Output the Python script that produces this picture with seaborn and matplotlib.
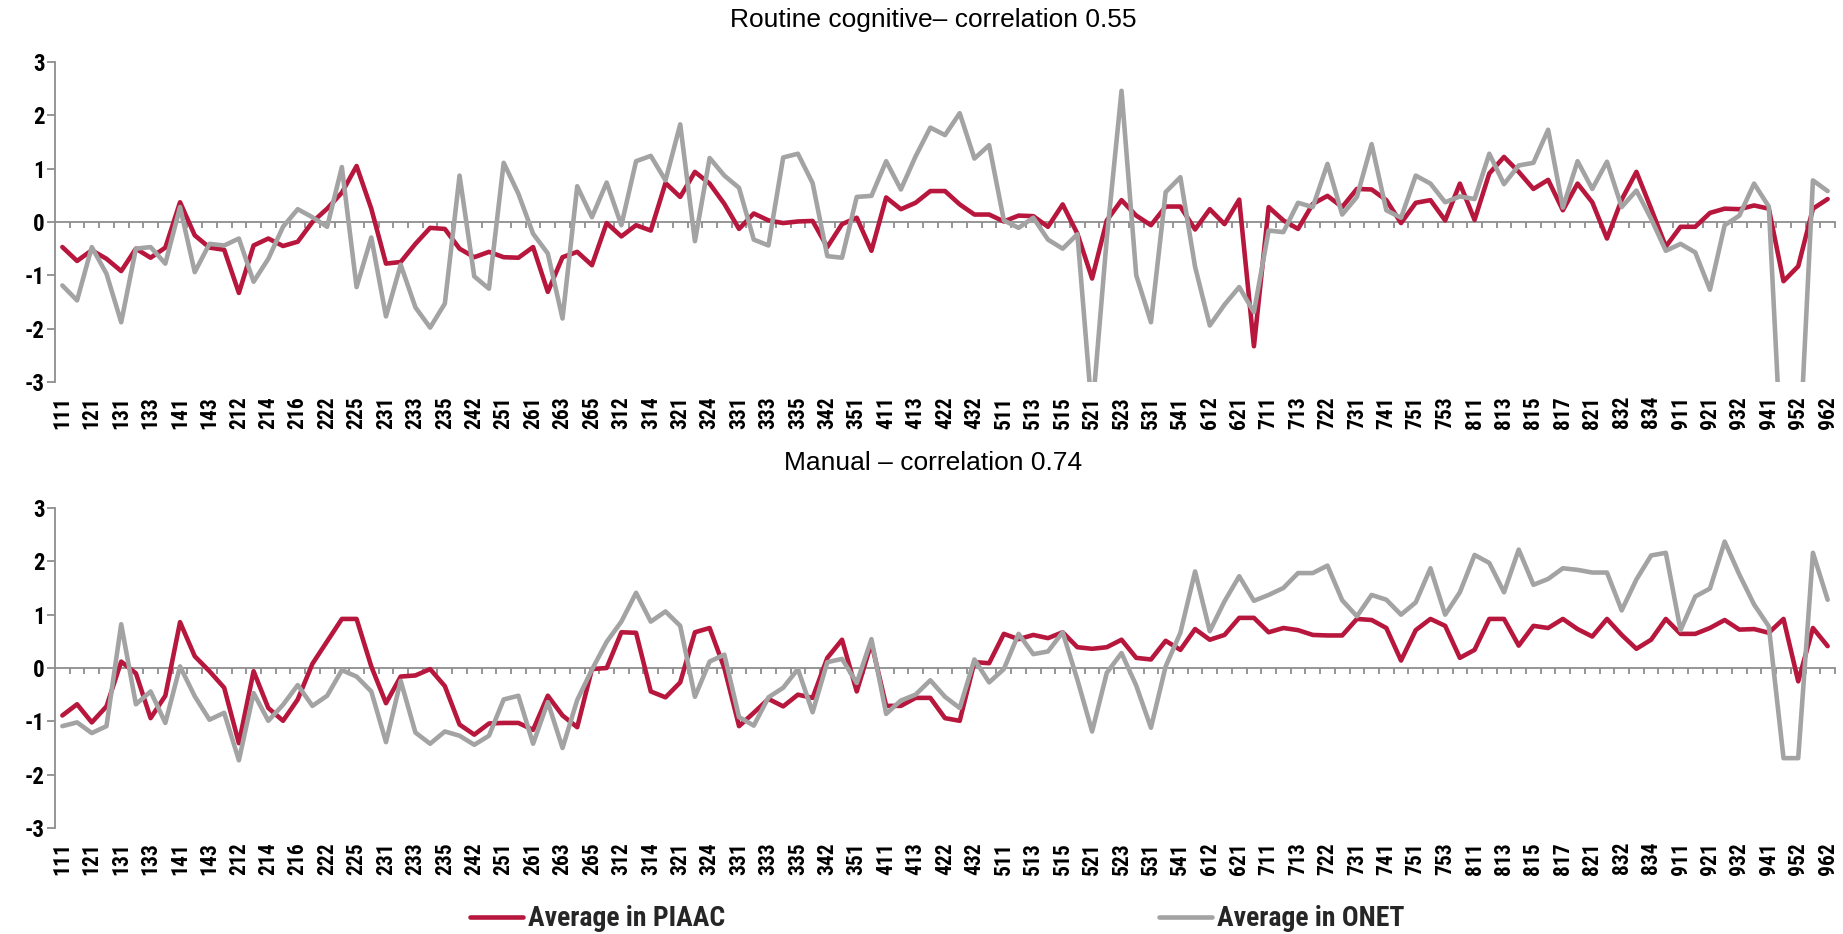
import numpy as np
import pandas as pd
import matplotlib
matplotlib.use("Agg")
import matplotlib.pyplot as plt
from matplotlib import font_manager as fm
import seaborn as sns

# ---------------- data ----------------
codes = ['111','112','121','122','131','132','133','134','141','142','143','211','212','213','214','215','216',
         '221','222','223','225','226','231','232','233','234','235','241','242','243','251','252','261','262',
         '263','264','265','311','312','313','314','315','321','322','324','325','331','332','333','334','335',
         '341','342','343','351','352','411','412','413','421','422','431','432','441','511','512','513','514',
         '515','516','521','522','523','524','531','532','541','611','612','613','621','622','711','712','713',
         '721','722','723','731','732','741','742','751','752','753','754','811','812','813','814','815','816',
         '817','818','821','831','832','833','834','835','911','912','921','931','932','933','941','951','952',
         '961','962']

routine_piaac = [-0.47, -0.73, -0.53, -0.69, -0.92, -0.50, -0.67, -0.48, 0.37, -0.25,
                 -0.48, -0.52, -1.33, -0.44, -0.31, -0.45, -0.37, 0.00, 0.25, 0.55,
                 1.05, 0.25, -0.78, -0.75, -0.41, -0.11, -0.13, -0.50, -0.66, -0.56,
                 -0.66, -0.67, -0.47, -1.31, -0.66, -0.56, -0.81, -0.02, -0.27, -0.06,
                 -0.16, 0.73, 0.47, 0.94, 0.72, 0.34, -0.13, 0.16, 0.03, -0.02,
                 0.01, 0.02, -0.47, -0.04, 0.08, -0.54, 0.46, 0.24, 0.36, 0.58,
                 0.58, 0.33, 0.14, 0.14, 0.01, 0.12, 0.11, -0.09, 0.33, -0.22,
                 -1.06, 0.03, 0.41, 0.12, -0.06, 0.29, 0.29, -0.14, 0.24, -0.04,
                 0.42, -2.33, 0.28, 0.03, -0.13, 0.34, 0.49, 0.28, 0.62, 0.61,
                 0.41, -0.02, 0.36, 0.41, 0.03, 0.72, 0.04, 0.91, 1.22, 0.94,
                 0.62, 0.79, 0.22, 0.72, 0.37, -0.31, 0.42, 0.94, 0.25, -0.46,
                 -0.09, -0.09, 0.17, 0.25, 0.24, 0.31, 0.25, -1.11, -0.83, 0.25, 0.43]

routine_onet = [-1.19, -1.47, -0.47, -0.97, -1.88, -0.50, -0.47, -0.78, 0.28, -0.94,
                -0.41, -0.44, -0.31, -1.12, -0.69, -0.09, 0.24, 0.09, -0.09, 1.03,
                -1.22, -0.29, -1.77, -0.80, -1.60, -1.98, -1.53, 0.87, -1.02, -1.25,
                1.11, 0.53, -0.22, -0.59, -1.81, 0.67, 0.09, 0.74, -0.06, 1.14,
                1.24, 0.78, 1.83, -0.36, 1.20, 0.87, 0.64, -0.33, -0.44, 1.21,
                1.28, 0.73, -0.64, -0.67, 0.47, 0.49, 1.14, 0.61, 1.23, 1.77,
                1.63, 2.04, 1.19, 1.44, 0.03, -0.11, 0.08, -0.33, -0.50, -0.23,
                -3.60, -0.30, 2.46, -1.00, -1.88, 0.56, 0.84, -0.84, -1.94, -1.55,
                -1.22, -1.69, -0.16, -0.19, 0.36, 0.28, 1.09, 0.14, 0.47, 1.46,
                0.22, 0.08, 0.87, 0.72, 0.37, 0.48, 0.43, 1.28, 0.71, 1.06,
                1.11, 1.73, 0.27, 1.14, 0.62, 1.13, 0.28, 0.59, 0.06, -0.54,
                -0.41, -0.57, -1.27, -0.06, 0.12, 0.72, 0.29, -5.20, -4.80, 0.78, 0.58]

manual_piaac = [-0.89, -0.68, -1.02, -0.72, 0.12, -0.10, -0.94, -0.52, 0.86, 0.22,
                -0.06, -0.37, -1.41, -0.06, -0.75, -0.99, -0.59, 0.08, 0.50, 0.92,
                0.92, 0.03, -0.66, -0.16, -0.14, -0.02, -0.34, -1.06, -1.25, -1.04,
                -1.03, -1.03, -1.16, -0.52, -0.89, -1.11, -0.02, 0.00, 0.67, 0.66,
                -0.44, -0.55, -0.27, 0.67, 0.75, 0.00, -1.09, -0.84, -0.58, -0.72,
                -0.50, -0.56, 0.19, 0.53, -0.44, 0.47, -0.71, -0.71, -0.56, -0.56,
                -0.94, -0.99, 0.11, 0.09, 0.64, 0.54, 0.62, 0.56, 0.67, 0.39,
                0.36, 0.39, 0.53, 0.19, 0.16, 0.51, 0.34, 0.73, 0.53, 0.62,
                0.94, 0.94, 0.67, 0.75, 0.71, 0.62, 0.61, 0.61, 0.92, 0.90,
                0.75, 0.14, 0.71, 0.92, 0.79, 0.19, 0.34, 0.92, 0.92, 0.42,
                0.79, 0.75, 0.92, 0.73, 0.59, 0.92, 0.62, 0.36, 0.53, 0.92,
                0.64, 0.64, 0.75, 0.90, 0.72, 0.73, 0.66, 0.92, -0.25, 0.75, 0.41]

manual_onet = [-1.09, -1.02, -1.22, -1.09, 0.82, -0.68, -0.44, -1.03, 0.03, -0.53,
               -0.97, -0.84, -1.73, -0.47, -0.99, -0.69, -0.32, -0.71, -0.52, -0.04,
               -0.16, -0.44, -1.39, -0.24, -1.21, -1.42, -1.19, -1.27, -1.44, -1.27,
               -0.59, -0.52, -1.42, -0.64, -1.50, -0.60, -0.03, 0.49, 0.87, 1.41,
               0.87, 1.06, 0.79, -0.54, 0.12, 0.25, -0.92, -1.08, -0.55, -0.37,
               -0.02, -0.83, 0.11, 0.17, -0.28, 0.54, -0.86, -0.61, -0.50, -0.23,
               -0.54, -0.75, 0.16, -0.27, -0.02, 0.64, 0.26, 0.31, 0.67, -0.22,
               -1.19, -0.09, 0.28, -0.33, -1.12, 0.03, 0.66, 1.81, 0.69, 1.25,
               1.72, 1.26, 1.37, 1.50, 1.78, 1.78, 1.92, 1.27, 0.97, 1.37,
               1.28, 1.00, 1.23, 1.87, 1.00, 1.42, 2.12, 1.97, 1.42, 2.22,
               1.56, 1.67, 1.87, 1.84, 1.79, 1.79, 1.08, 1.66, 2.11, 2.16,
               0.71, 1.34, 1.49, 2.37, 1.75, 1.19, 0.78, -1.69, -1.69, 2.16, 1.28]

series_names = ['Average in PIAAC', 'Average in ONET']
titles = ['Routine cognitive\u2013 correlation 0.55', 'Manual \u2013 correlation 0.74']
y_ticks = [-3, -2, -1, 0, 1, 2, 3]

# ---------------- style ----------------
RED = '#B8173D'
GRAY = '#A3A3A3'
AXIS = '#8E8E8E'

sns.set_theme(style='white')
avail = {f.name for f in fm.fontManager.ttflist}
regular = 'Liberation Sans' if 'Liberation Sans' in avail else 'DejaVu Sans'
plt.rcParams['font.family'] = [regular, 'DejaVu Sans']


def _weight(w):
    if isinstance(w, (int, float)):
        return int(w)
    return fm.weight_dict.get(str(w).lower(), 400)


def pick_condensed_bold():
    best = None
    for f in fm.fontManager.ttflist:
        low = (f.name + ' ' + f.fname).lower()
        cond = ('narrow' in low or 'condensed' in low or
                str(f.stretch) in ('condensed', 'semi-condensed', 'extra-condensed', 'ultra-condensed'))
        if not cond or 'italic' in low or 'oblique' in low or f.style != 'normal':
            continue
        if _weight(f.weight) < 600:
            continue
        if 'liberation sans narrow' in low:
            score = 0
        elif 'roboto' in low:
            score = 1
        elif 'dejavu' in low:
            score = 2
        else:
            score = 3
        if best is None or score < best[0]:
            best = (score, f.fname)
    return best[1] if best else None


cond_file = pick_condensed_bold()


def bold_font(size):
    if cond_file:
        return fm.FontProperties(fname=cond_file, size=size)
    return fm.FontProperties(family='Roboto', weight='bold', size=size * 0.88)


fig = plt.figure(figsize=(18.43, 9.34), dpi=100)
W, H = 1843, 934
ax_left, ax_right = 55, 1835
panels = [(62, 382), (508, 828)]
title_y = [20, 463]

pos = np.arange(len(codes))


def make_df(a, b):
    return pd.DataFrame({
        'pos': np.concatenate([pos, pos]),
        'value': np.concatenate([np.asarray(a, float), np.asarray(b, float)]),
        'series': [series_names[0]] * len(codes) + [series_names[1]] * len(codes),
    })


datasets = [make_df(routine_piaac, routine_onet), make_df(manual_piaac, manual_onet)]

axes = []
for k, (top, bot) in enumerate(panels):
    ax = fig.add_axes([ax_left / W, 1 - bot / H, (ax_right - ax_left) / W, (bot - top) / H])
    axes.append(ax)
    sns.lineplot(data=datasets[k], x='pos', y='value', hue='series', hue_order=series_names,
                 palette=[RED, GRAY], linewidth=3.3, legend=False, ax=ax, sort=False,
                 estimator=None)
    ax.set_xlim(-0.5, len(codes) - 0.5)
    ax.set_ylim(-3, 3)
    ax.set_xlabel('')
    ax.set_ylabel('')
    for s in ['top', 'right']:
        ax.spines[s].set_visible(False)
    ax.spines['left'].set_color(AXIS)
    ax.spines['left'].set_linewidth(1.3)
    ax.spines['bottom'].set_position(('data', 0))
    ax.spines['bottom'].set_color(AXIS)
    ax.spines['bottom'].set_linewidth(1.3)
    ax.spines['bottom'].set_zorder(1)

    ax.set_yticks(y_ticks)
    ax.set_yticklabels([str(v) for v in y_ticks])
    for lab in ax.get_yticklabels():
        lab.set_fontproperties(bold_font(16.5))
        lab.set_color('black')
    ax.tick_params(axis='y', which='major', left=True, length=5.5, width=1.3, color=AXIS, pad=2)

    ax.set_xticks([])
    ax.set_xticks(np.arange(0.5, len(codes), 1.0), minor=True)
    ax.tick_params(axis='x', which='minor', bottom=True, direction='out', length=4.5,
                   width=1.3, color=AXIS)

    sec = ax.secondary_xaxis(0)
    sec.set_xticks(pos[::2])
    sec.set_xticklabels(codes[::2], rotation=90)
    for lab in sec.get_xticklabels():
        lab.set_fontproperties(bold_font(15.5))
        lab.set_color('black')
    sec.tick_params(axis='x', length=0, pad=10)
    for s in sec.spines.values():
        s.set_visible(False)

    fig.text(933 / W, 1 - title_y[k] / H, titles[k], ha='center', va='center',
             fontsize=19, color='black', fontfamily=regular)

handles = axes[0].get_lines()[:2]
fig.legend(handles, series_names, loc='center left', bbox_to_anchor=(470 / W, 1 - 919 / H),
           ncol=2, frameon=False, columnspacing=15.6, handlelength=1.9, handletextpad=0.2,
           borderpad=0, borderaxespad=0, prop=bold_font(20))

fig.savefig('out.png', dpi=100)
